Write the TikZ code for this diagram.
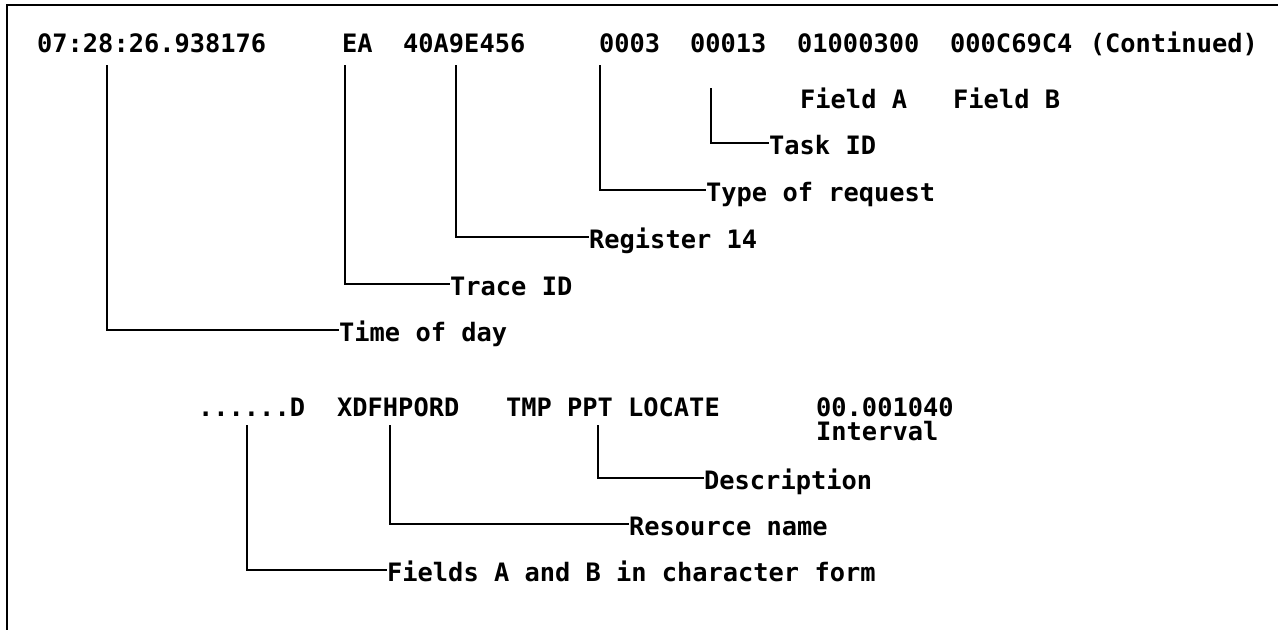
\documentclass[tikz,border=0pt]{standalone}
\usepackage{fontspec}
\newfontfamily\tmono{DejaVu Sans Mono Bold}
\begin{document}
\begin{tikzpicture}[x=1pt,y=-1pt,
  txt/.style={font=\tmono\fontsize{25.35}{30}\selectfont, inner sep=0pt, anchor=base west},
  lab/.style={font=\tmono\fontsize{25.35}{30}\selectfont, inner sep=0pt, anchor=west, text height=22pt, text depth=0pt},
  con/.style={line width=2pt},
  frame/.style={line width=2pt}]
\useasboundingbox (0,0) rectangle (1278,630);
\coordinate (fr1) at (1278,5);
\coordinate (fr2) at (7,5);
\coordinate (fr3) at (7,630);
\draw[frame] (fr1) -- (fr2) -- (fr3);
% row 1 (monospaced grid: x = 37 + 15.26 * column)
\node[txt] (tm) at (37,52) {07:28:26.938176};
\node[txt] (ea) at (342,52) {EA};
\node[txt] (r14) at (403,52) {40A9E456};
\node[txt] (typ) at (599,52) {0003};
\node[txt] (tsk) at (690,52) {00013};
\node[txt] (fa) at (797,52) {01000300};
\node[txt] (fb) at (950,52) {000C69C4};
\node[txt, anchor=base east] (cont) at (1258,52) {(Continued)};
\node[txt] (fal) at (800,108) {Field A};
\node[txt] (fbl) at (953,108) {Field B};
% labels
\node[lab] (ltask) at (769,143) {Task ID};
\node[lab] (ltype) at (706,190) {Type of request};
\node[lab] (lreg) at (589,237) {Register 14};
\node[lab] (ltrace) at (450,284) {Trace ID};
\node[lab] (ltime) at (339,330) {Time of day};
\coordinate (c1) at (107,65);
\coordinate (c2) at (345,65);
\coordinate (c3) at (456,65);
\coordinate (c4) at (600,65);
\coordinate (c5) at (711,88);
\draw[con] (c5) |- (ltask.west);
\draw[con] (c4) |- (ltype.west);
\draw[con] (c3) |- (lreg.west);
\draw[con] (c2) |- (ltrace.west);
\draw[con] (c1) |- (ltime.west);
% second block
\node[txt] (dots) at (198,416) {......D};
\node[txt] (res) at (337,416) {XDFHPORD};
\node[txt] (tmp) at (506,416) {TMP};
\node[txt] (ppt) at (567,416) {PPT};
\node[txt] (loc) at (628,416) {LOCATE};
\node[txt] (ivn) at (816,416) {00.001040};
\node[txt] (ivl) at (816,440) {Interval};
\node[lab] (ldesc) at (704,478) {Description};
\node[lab] (lres) at (629,524) {Resource name};
\node[lab] (lfld) at (387,570) {Fields A and B in character form};
\coordinate (d1) at (247,425);
\coordinate (d2) at (390,425);
\coordinate (d3) at (598,425);
\draw[con] (d3) |- (ldesc.west);
\draw[con] (d2) |- (lres.west);
\draw[con] (d1) |- (lfld.west);
\end{tikzpicture}
\end{document}
